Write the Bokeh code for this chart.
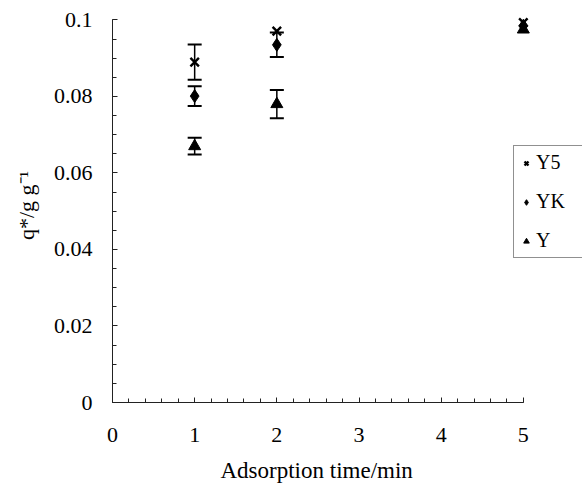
from bokeh.plotting import figure
from bokeh.models import (ColumnDataSource, Whisker, FixedTicker, CustomJSTickFormatter,
                          Legend, LegendItem, Range1d, TeeHead, Title)
from bokeh.embed import file_html
from bokeh.resources import INLINE

# ---- data ----
times = [1, 2, 5]
y5 = [0.0890, 0.0971, 0.0993]
yk = [0.0801, 0.0935, 0.0985]
yy = [0.0670, 0.0780, 0.0975]
y5_err = [0.0046, 0.0, 0.0]
yk_err = [0.0026, 0.0032, 0.0]
yy_err = [0.0022, 0.0037, 0.0]
x_ticks = [0, 1, 2, 3, 4, 5]
y_ticks = [0, 0.02, 0.04, 0.06, 0.08, 0.1]
series_names = ["Y5", "YK", "Y"]
x_title = "Adsorption time/min"
y_title = "q*/g g\u207b\u00b9"

FONT = "Liberation Serif"

p = figure(width=582, height=493, output_backend="svg", toolbar_location=None,
           x_range=Range1d(0, 5.72), y_range=Range1d(0, 0.103),
           min_border_left=112, min_border_right=0, min_border_top=8,
           min_border_bottom=91)
p.outline_line_color = None
p.grid.visible = False
p.background_fill_color = "white"

# axes
p.xaxis.ticker = FixedTicker(ticks=x_ticks, minor_ticks=[i * 0.2 for i in range(26)])
p.yaxis.ticker = FixedTicker(ticks=y_ticks, minor_ticks=[i * 0.005 for i in range(21)])
p.yaxis.formatter = CustomJSTickFormatter(
    code="var s = tick.toFixed(2); s = s.replace(/0+$/, ''); s = s.replace(/\\.$/, ''); return s;")
p.xaxis.bounds = (0, 5)
p.yaxis.bounds = (0, 0.1)
for ax in (p.xaxis, p.yaxis):
    ax.axis_line_color = "#222222"
    ax.axis_line_width = 1
    ax.major_tick_in = 5
    ax.major_tick_out = 0
    ax.minor_tick_in = 4
    ax.minor_tick_out = 0
    ax.major_tick_line_color = "#222222"
    ax.minor_tick_line_color = "#222222"
    ax.major_label_text_font = FONT
    ax.major_label_text_font_size = "22px"
    ax.major_label_text_color = "black"
    ax.axis_label_text_font = FONT
    ax.axis_label_text_font_style = "normal"
    ax.axis_label_text_color = "black"
p.yaxis.axis_label_text_font_size = "22px"
p.xaxis.major_label_standoff = 25
p.yaxis.major_label_standoff = 20
p.yaxis.axis_label = y_title
p.yaxis.axis_label_standoff = 12

# x-axis title placed under the drawn axis (0..5), not centred on the wider frame
p.add_layout(Title(text=x_title, align="left", offset=108, text_font=FONT,
                   text_font_size="23px", text_font_style="normal",
                   text_color="black", standoff=22), "below")

# error bars
def add_err(vals, errs):
    xs = [t for t, e in zip(times, errs) if e > 0]
    up = [v + e for v, e in zip(vals, errs) if e > 0]
    lo = [v - e for v, e in zip(vals, errs) if e > 0]
    src = ColumnDataSource(dict(base=xs, upper=up, lower=lo))
    w = Whisker(source=src, base="base", upper="upper", lower="lower", dimension="height",
                line_color="black", line_width=1.5,
                upper_head=TeeHead(size=14, line_width=2, line_color="black"),
                lower_head=TeeHead(size=14, line_width=2, line_color="black"))
    p.add_layout(w)

add_err(y5, y5_err)
add_err(yk, yk_err)
add_err(yy, yy_err)

r1 = p.scatter(times, y5, marker="x", size=12, line_width=2.4, color="black")
r2 = p.scatter(times, yk, marker="diamond", size=13, color="black")
r3 = p.scatter(times, yy, marker="triangle", size=12, color="black")

legend = Legend(items=[LegendItem(label=series_names[0], renderers=[r1]),
                       LegendItem(label=series_names[1], renderers=[r2]),
                       LegendItem(label=series_names[2], renderers=[r3])],
                location=(401, 144))
legend.label_text_font = FONT
legend.label_text_font_size = "20px"
legend.label_text_color = "black"
legend.border_line_color = "#222222"
legend.border_line_width = 1
legend.background_fill_color = "white"
legend.background_fill_alpha = 1
legend.glyph_width = 14
legend.glyph_height = 22
legend.label_height = 22
legend.label_width = 48
legend.spacing = 16
legend.padding = 5
legend.margin = 0
legend.label_standoff = 3
p.add_layout(legend, "center")

open("out.html", "w").write(file_html(p, INLINE))
